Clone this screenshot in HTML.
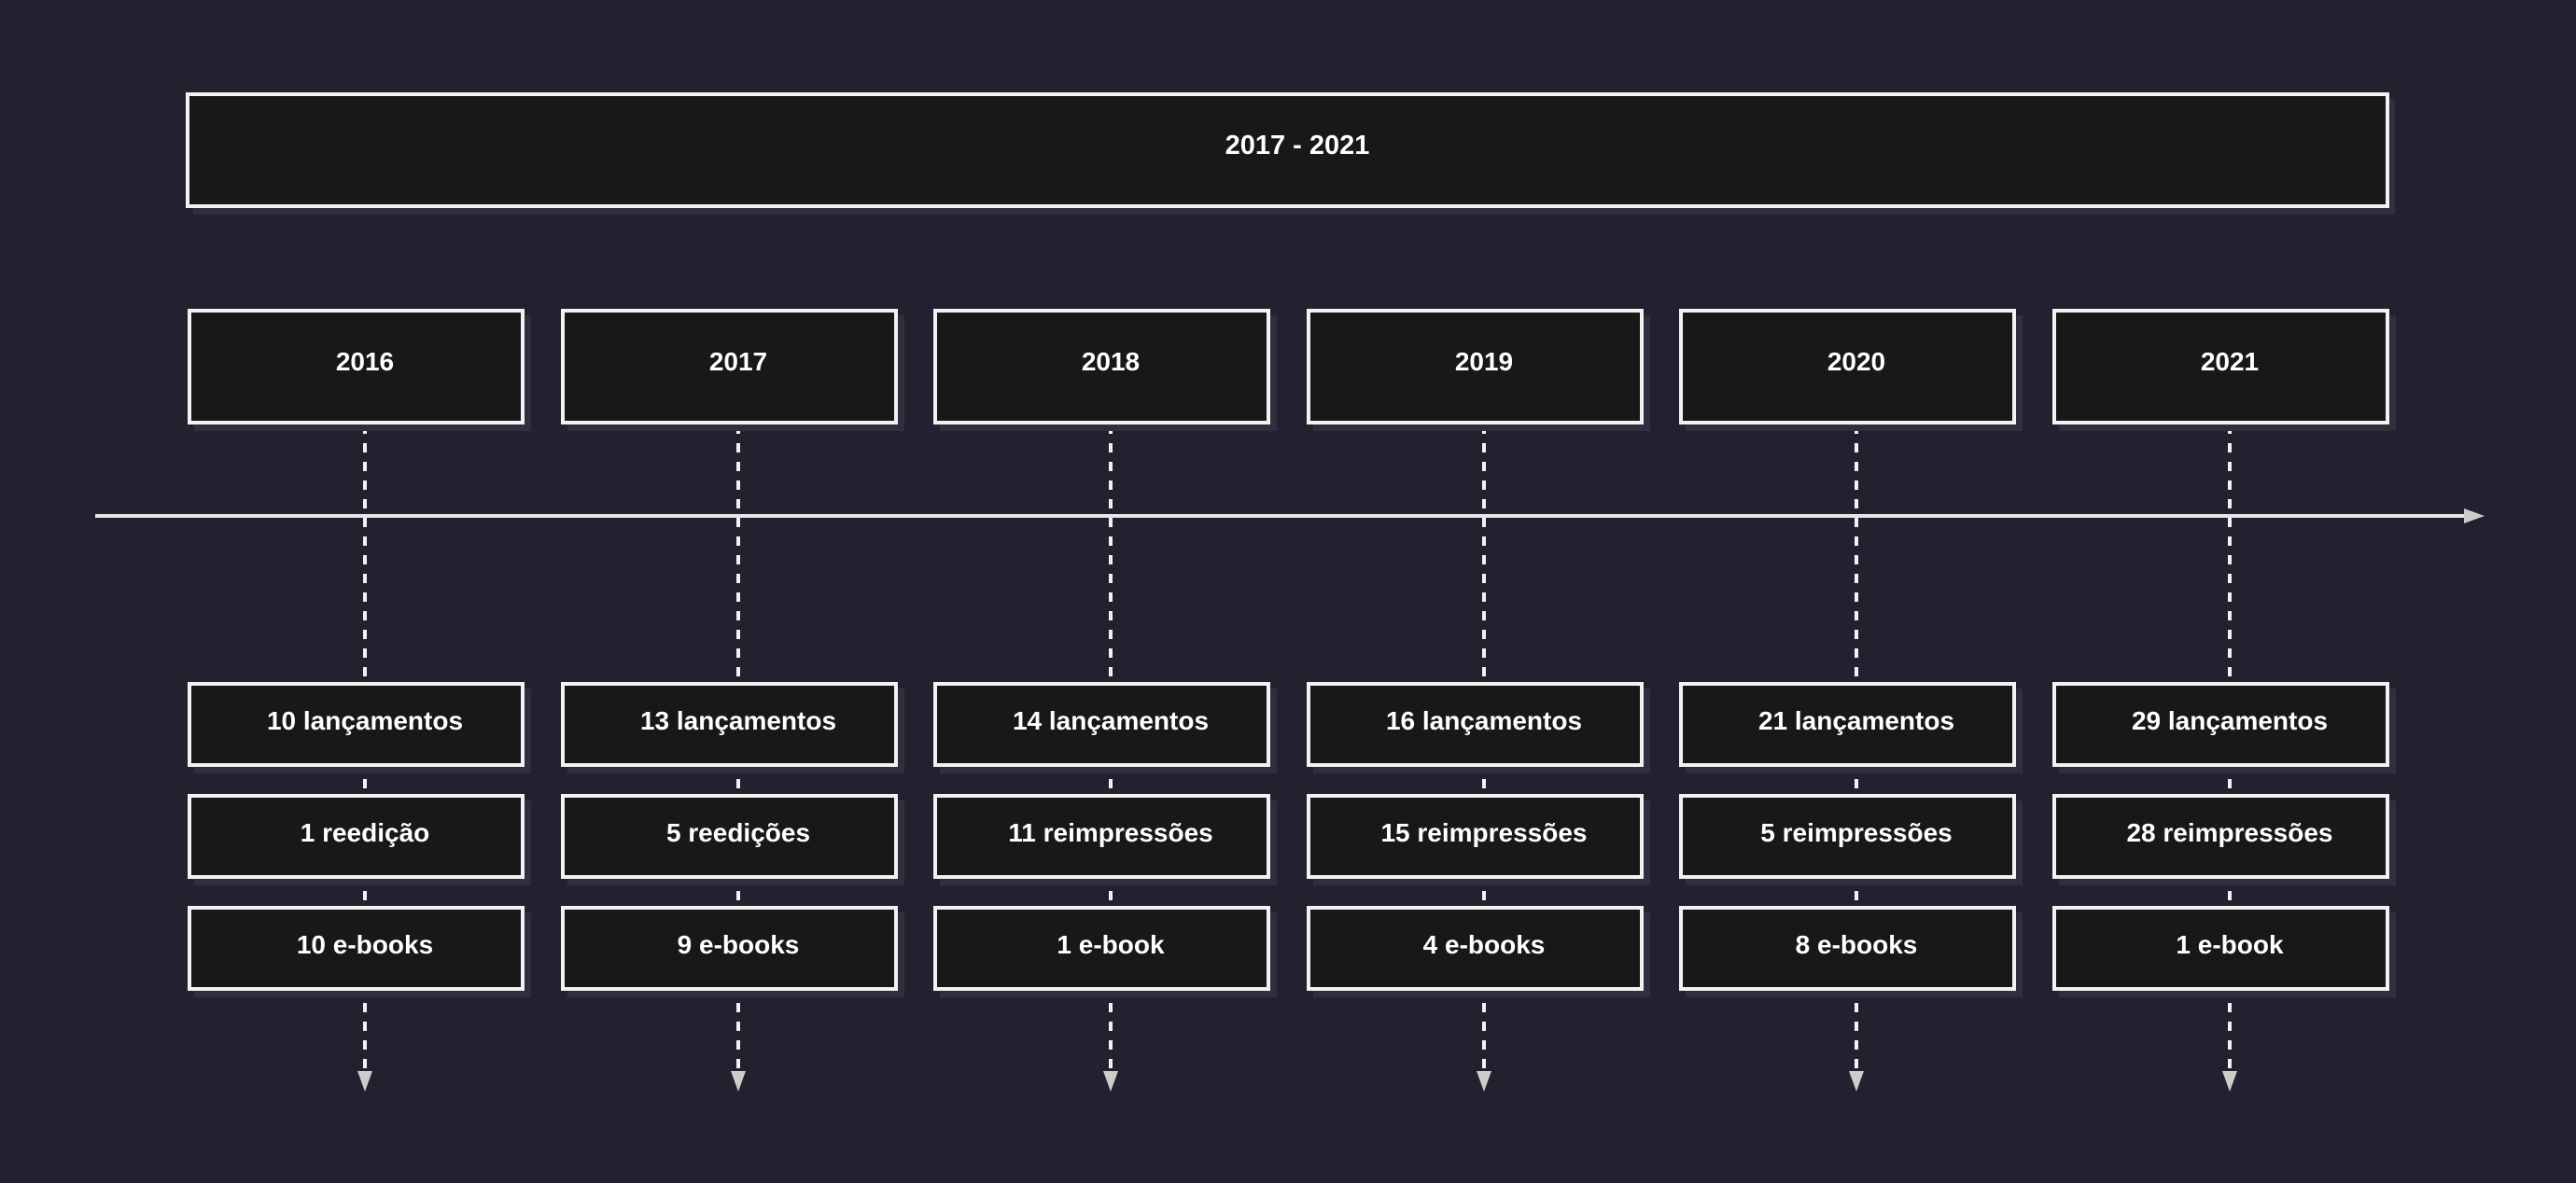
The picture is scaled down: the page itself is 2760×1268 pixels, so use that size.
<!DOCTYPE html>
<html><head><meta charset="utf-8"><style>
html,body{margin:0;padding:0;background:#23212f;}
svg{display:block}
text{font-family:"Liberation Sans",sans-serif;font-weight:bold;font-size:28px;fill:#ffffff;text-anchor:middle}
.sh{fill:#312e3f}
.bx{fill:#181818;stroke:#f2f2f2;stroke-width:4}
.dl{stroke:#f2f2f2;stroke-width:4;stroke-dasharray:10,10}
</style></head><body>
<svg width="2760" height="1268" viewBox="0 0 2760 1268" xmlns="http://www.w3.org/2000/svg">
<rect width="2760" height="1268" fill="#23212f"/>
<rect x="207" y="106" width="2359" height="124" class="sh"/>
<rect x="201" y="101" width="2357" height="120" class="bx"/>
<text x="1390" y="165" style="font-size:29px">2017 - 2021</text>
<line x1="102" y1="553" x2="2642" y2="553" stroke="#e6e6e6" stroke-width="4"/>
<polygon points="2640,545 2662,553 2640,561" fill="#cccccc"/>

<g transform="translate(0,0)">
<line x1="391" y1="455" x2="391" y2="1148" class="dl"/>
<polygon points="383,1148 399,1148 391,1170" fill="#cccccc"/>
<rect x="208" y="338" width="361" height="124" class="sh"/><rect x="203" y="333" width="357" height="120" class="bx"/><text x="391" y="397">2016</text>
<rect x="208" y="738" width="361" height="91" class="sh"/><rect x="203" y="733" width="357" height="87" class="bx"/><text x="391" y="782">10 lançamentos</text>
<rect x="208" y="858" width="361" height="91" class="sh"/><rect x="203" y="853" width="357" height="87" class="bx"/><text x="391" y="902">1 reedição</text>
<rect x="208" y="978" width="361" height="91" class="sh"/><rect x="203" y="973" width="357" height="87" class="bx"/><text x="391" y="1022">10 e-books</text>
</g>
<g transform="translate(400,0)">
<line x1="391" y1="455" x2="391" y2="1148" class="dl"/>
<polygon points="383,1148 399,1148 391,1170" fill="#cccccc"/>
<rect x="208" y="338" width="361" height="124" class="sh"/><rect x="203" y="333" width="357" height="120" class="bx"/><text x="391" y="397">2017</text>
<rect x="208" y="738" width="361" height="91" class="sh"/><rect x="203" y="733" width="357" height="87" class="bx"/><text x="391" y="782">13 lançamentos</text>
<rect x="208" y="858" width="361" height="91" class="sh"/><rect x="203" y="853" width="357" height="87" class="bx"/><text x="391" y="902">5 reedições</text>
<rect x="208" y="978" width="361" height="91" class="sh"/><rect x="203" y="973" width="357" height="87" class="bx"/><text x="391" y="1022">9 e-books</text>
</g>
<g transform="translate(799,0)">
<line x1="391" y1="455" x2="391" y2="1148" class="dl"/>
<polygon points="383,1148 399,1148 391,1170" fill="#cccccc"/>
<rect x="208" y="338" width="361" height="124" class="sh"/><rect x="203" y="333" width="357" height="120" class="bx"/><text x="391" y="397">2018</text>
<rect x="208" y="738" width="361" height="91" class="sh"/><rect x="203" y="733" width="357" height="87" class="bx"/><text x="391" y="782">14 lançamentos</text>
<rect x="208" y="858" width="361" height="91" class="sh"/><rect x="203" y="853" width="357" height="87" class="bx"/><text x="391" y="902">11 reimpressões</text>
<rect x="208" y="978" width="361" height="91" class="sh"/><rect x="203" y="973" width="357" height="87" class="bx"/><text x="391" y="1022">1 e-book</text>
</g>
<g transform="translate(1199,0)">
<line x1="391" y1="455" x2="391" y2="1148" class="dl"/>
<polygon points="383,1148 399,1148 391,1170" fill="#cccccc"/>
<rect x="208" y="338" width="361" height="124" class="sh"/><rect x="203" y="333" width="357" height="120" class="bx"/><text x="391" y="397">2019</text>
<rect x="208" y="738" width="361" height="91" class="sh"/><rect x="203" y="733" width="357" height="87" class="bx"/><text x="391" y="782">16 lançamentos</text>
<rect x="208" y="858" width="361" height="91" class="sh"/><rect x="203" y="853" width="357" height="87" class="bx"/><text x="391" y="902">15 reimpressões</text>
<rect x="208" y="978" width="361" height="91" class="sh"/><rect x="203" y="973" width="357" height="87" class="bx"/><text x="391" y="1022">4 e-books</text>
</g>
<g transform="translate(1598,0)">
<line x1="391" y1="455" x2="391" y2="1148" class="dl"/>
<polygon points="383,1148 399,1148 391,1170" fill="#cccccc"/>
<rect x="208" y="338" width="361" height="124" class="sh"/><rect x="203" y="333" width="357" height="120" class="bx"/><text x="391" y="397">2020</text>
<rect x="208" y="738" width="361" height="91" class="sh"/><rect x="203" y="733" width="357" height="87" class="bx"/><text x="391" y="782">21 lançamentos</text>
<rect x="208" y="858" width="361" height="91" class="sh"/><rect x="203" y="853" width="357" height="87" class="bx"/><text x="391" y="902">5 reimpressões</text>
<rect x="208" y="978" width="361" height="91" class="sh"/><rect x="203" y="973" width="357" height="87" class="bx"/><text x="391" y="1022">8 e-books</text>
</g>
<g transform="translate(1998,0)">
<line x1="391" y1="455" x2="391" y2="1148" class="dl"/>
<polygon points="383,1148 399,1148 391,1170" fill="#cccccc"/>
<rect x="208" y="338" width="361" height="124" class="sh"/><rect x="203" y="333" width="357" height="120" class="bx"/><text x="391" y="397">2021</text>
<rect x="208" y="738" width="361" height="91" class="sh"/><rect x="203" y="733" width="357" height="87" class="bx"/><text x="391" y="782">29 lançamentos</text>
<rect x="208" y="858" width="361" height="91" class="sh"/><rect x="203" y="853" width="357" height="87" class="bx"/><text x="391" y="902">28 reimpressões</text>
<rect x="208" y="978" width="361" height="91" class="sh"/><rect x="203" y="973" width="357" height="87" class="bx"/><text x="391" y="1022">1 e-book</text>
</g>
</svg>
</body></html>
